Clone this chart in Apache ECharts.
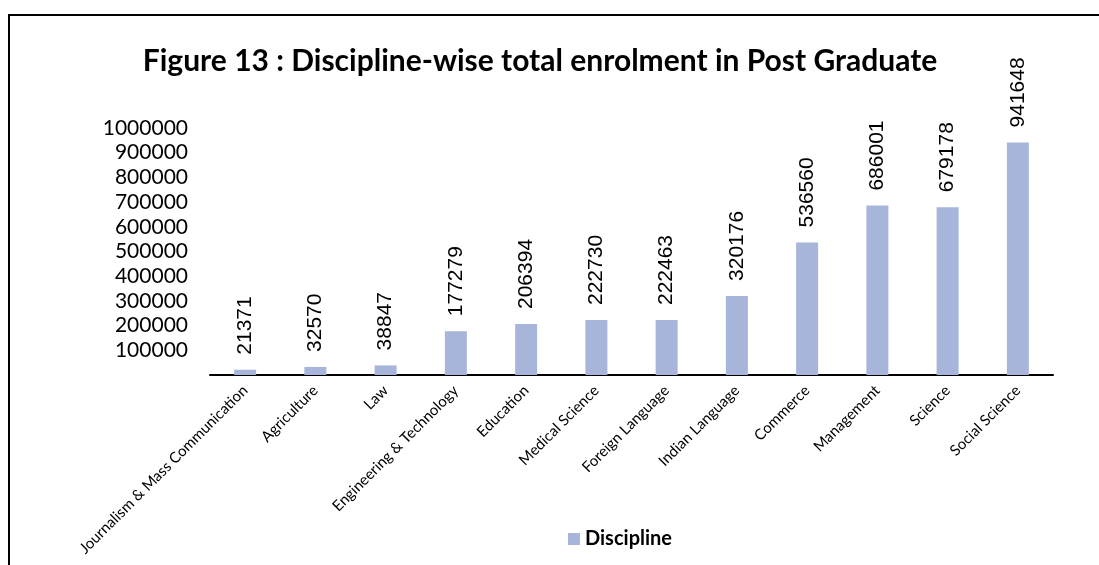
<!DOCTYPE html>
<html>
<head>
<meta charset="utf-8">
<script src="https://cdn.jsdelivr.net/npm/echarts@6/dist/echarts.min.js"></script>
<style>html,body{margin:0;padding:0;background:#fff}#c{width:1099px;height:565px}</style>
</head>
<body>
<div id="c"></div>
<script>
const categories = ["Journalism & Mass Communication","Agriculture","Law","Engineering & Technology","Education","Medical Science","Foreign Language","Indian Language","Commerce","Management","Science","Social Science"];
const values = [21371,32570,38847,177279,206394,222730,222463,320176,536560,686001,679178,941648];
const seriesName = "Discipline";
const titleText = "Figure 13 : Discipline-wise total enrolment in Post Graduate";

const chart = echarts.init(document.getElementById('c'), null, {renderer:'canvas'});
chart.setOption({
  animation:false,
  backgroundColor:'#fff',
  graphic:[{type:'rect', shape:{x:9,y:15,width:1300,height:800}, style:{fill:'none', stroke:'#000', lineWidth:2}, z:100}],
  title:{text:titleText, left:535, top:41, textAlign:'center',
    textStyle:{fontFamily:'Lato', fontWeight:'bold', fontSize:30, color:'#000'}},
  legend:{data:[seriesName], left:563, top:524, itemWidth:12, itemHeight:12, itemGap:8,
    icon:'rect', textStyle:{fontFamily:'Lato', fontWeight:'bold', fontSize:20, color:'#000'}},
  grid:{left:210, right:46, top:128, bottom:190, containLabel:false, outerBoundsMode:'none'},
  xAxis:{type:'category', data:categories,
    axisLine:{lineStyle:{color:'#000', width:2}}, axisTick:{show:false},
    axisLabel:{interval:0, rotate:45, margin:13, fontFamily:'Lato', fontSize:15, color:'#000'}},
  yAxis:{type:'value', min:0, max:1000000, interval:100000,
    axisLine:{show:false}, axisTick:{show:false}, splitLine:{show:false},
    axisLabel:{showMinLabel:false, margin:22, fontFamily:'Lato', fontSize:21, color:'#000',
      formatter:function(v){return String(v);}}},
  series:[{name:seriesName, type:'bar', data:values, barWidth:22,
    itemStyle:{color:'#A7B5DA'},
    label:{show:true, position:'top', rotate:90, align:'left', verticalAlign:'middle', distance:15,
      fontFamily:'Liberation Sans', fontSize:21, color:'#000'}}]
});
</script>
</body>
</html>
